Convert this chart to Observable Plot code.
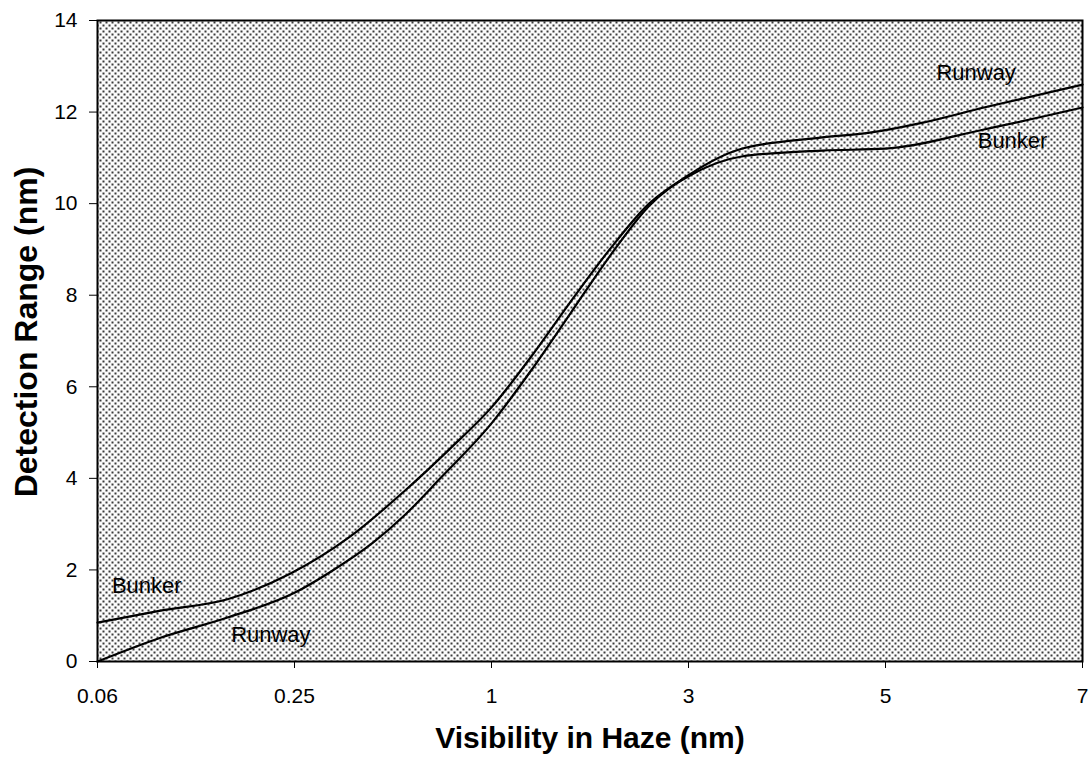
<!DOCTYPE html>
<html><head><meta charset="utf-8">
<script src="https://cdn.jsdelivr.net/npm/d3@7"></script>
<script src="https://cdn.jsdelivr.net/npm/@observablehq/plot@0.6"></script>
<style>body{margin:0;background:#fff}</style>
</head><body><div id="chart"></div>
<script>
// Category labels on the visibility axis (evenly spaced positions 0..5)
const xTickLabels = ["0.06", "0.25", "1", "3", "5", "7"];
const yTicks = [0, 2, 4, 6, 8, 10, 12, 14];

// Curves, x given in axis-position units (0 = "0.06" ... 5 = "7")
const bunkerX = [0, 0.32, 0.66, 0.98, 1.28, 1.56, 1.79, 2.0, 2.2, 2.4, 2.6, 2.8, 3.0, 3.27, 3.68, 4.0, 4.5, 5.0];
const bunkerY = [0.85, 1.11, 1.36, 1.92, 2.72, 3.73, 4.65, 5.55, 6.65, 7.85, 9.0, 10.0, 10.6, 11.03, 11.16, 11.2, 11.62, 12.1];
const runwayX = [0, 0.32, 0.66, 1.0, 1.18, 1.4, 1.56, 1.74, 2.0, 2.2, 2.4, 2.6, 2.8, 3.01, 3.27, 3.67, 3.92, 4.19, 4.5, 5.0];
const runwayY = [0, 0.52, 0.96, 1.5, 1.95, 2.6, 3.2, 4.0, 5.2, 6.35, 7.6, 8.85, 9.95, 10.65, 11.2, 11.44, 11.55, 11.77, 12.1, 12.6];

// In-chart labels
const labelText = ["Runway", "Bunker", "Bunker", "Runway"];
const labelX = [4.46, 4.645, 0.25, 0.88];
const labelY = [12.86, 11.36, 1.64, 0.59];

const series = [
  ...bunkerX.map((x, i) => ({series: "Bunker", x, y: bunkerY[i]})),
  ...runwayX.map((x, i) => ({series: "Runway", x, y: runwayY[i]}))
];
const labels = labelText.map((t, i) => ({t, x: labelX[i], y: labelY[i]}));

const svg = Plot.plot({
  width: 1089,
  height: 757,
  marginTop: 20,
  marginBottom: 96,
  marginLeft: 97,
  marginRight: 7,
  style: {fontFamily: "'Liberation Sans', Arial, sans-serif", fontSize: "21px", background: "#fff", color: "#000"},
  x: {type: "linear", domain: [0, 5]},
  y: {domain: [0, 14]},
  marks: [
    Plot.frame({fill: "url(#dots)"}),
    Plot.line(series, {x: "x", y: "y", z: "series", curve: "monotone-x", stroke: "#000", strokeWidth: 2.2}),
    Plot.text(labels, {x: "x", y: "y", text: "t", fontSize: 22, fill: "#000"}),
    Plot.frame({stroke: "#000", strokeWidth: 2}),
    Plot.axisX({ticks: [0, 1, 2, 3, 4, 5], tickFormat: i => xTickLabels[i], tickSize: 7, tickPadding: 20, label: null, fontSize: 21}),
    Plot.axisY({ticks: yTicks, tickSize: 8, tickPadding: 12, label: null, fontSize: 21}),
    Plot.text(["Visibility in Haze (nm)"], {frameAnchor: "bottom", lineAnchor: "middle", textAnchor: "middle", dy: 77, fontSize: 30, fontWeight: "bold", fill: "#000"}),
    Plot.text(["Detection Range (nm)"], {frameAnchor: "left", lineAnchor: "middle", textAnchor: "middle", rotate: -90, dx: -71, dy: -9, fontSize: 32, fontWeight: "bold", fill: "#000"})
  ]
});

// dotted halftone fill pattern for the plotting area
const defs = d3.select(svg).insert("defs", ":first-child");
const pat = defs.append("pattern").attr("id", "dots").attr("patternUnits", "userSpaceOnUse")
  .attr("width", 6).attr("height", 6);
pat.append("rect").attr("width", 6).attr("height", 6).attr("fill", "#fbfbfb");
pat.append("rect").attr("x", 0).attr("y", 0).attr("width", 2).attr("height", 2).attr("fill", "#3a3a3a");
pat.append("rect").attr("x", 3).attr("y", 3).attr("width", 2).attr("height", 2).attr("fill", "#3a3a3a");

document.getElementById("chart").appendChild(svg);
</script>
</body></html>
